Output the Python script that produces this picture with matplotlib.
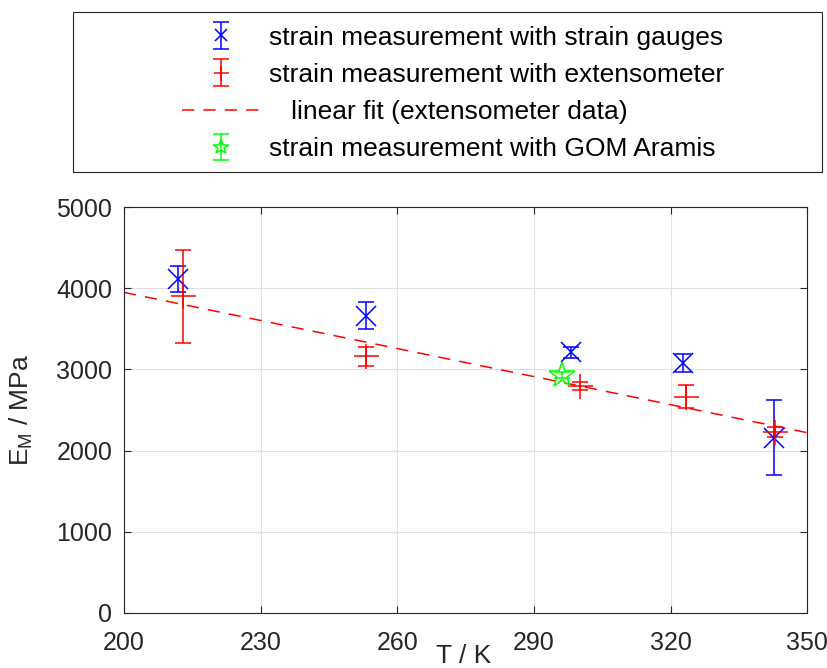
import matplotlib
matplotlib.use("Agg")
import matplotlib.pyplot as plt
from matplotlib.patches import Rectangle

plt.rcParams["font.family"] = ["Liberation Sans", "DejaVu Sans"]
plt.rcParams["mathtext.fontset"] = "custom"
plt.rcParams["mathtext.rm"] = "Liberation Sans"

# strain gauges
T_gauge = [211.9, 253.1, 298.1, 322.7, 342.6]
E_gauge = [4115, 3663, 3212, 3076, 2160]
err_gauge = [160, 165, 68, 111, 465]

# extensometer
T_ext = [213.0, 253.1, 300.1, 323.3, 342.9]
E_ext = [3900, 3162, 2795, 2665, 2229]
err_ext = [570, 120, 48, 145, 65]

# linear fit of extensometer data (end points)
T_fit = [200, 350]
E_fit = [3950, 2220]

# GOM Aramis
T_gom = [296.1]
E_gom = [2928]
err_gom = [35]

x_ticks = [200, 230, 260, 290, 320, 350]
y_ticks = [0, 1000, 2000, 3000, 4000, 5000]

labels = [
    "strain measurement with strain gauges",
    "strain measurement with extensometer",
    "   linear fit (extensometer data)",
    "strain measurement with GOM Aramis",
]

dark = (0.15, 0.15, 0.15)
fs = 19

fig = plt.figure(figsize=(8.27, 6.68), dpi=100)
ax = fig.add_axes([0.1499, 0.0828, 0.8262, 0.6069])

h1 = ax.errorbar(T_gauge, E_gauge, yerr=err_gauge, fmt="x", color="blue",
                 ms=14, mew=1.1, elinewidth=1.1, capsize=6, capthick=1.1)
h2 = ax.errorbar(T_ext, E_ext, yerr=err_ext, fmt="+", color="red",
                 ms=18, mew=1.1, elinewidth=1.1, capsize=6, capthick=1.1)
(h3,) = ax.plot(T_fit, E_fit, color="red", lw=1.1, dashes=(8, 6))
h4 = ax.errorbar(T_gom, E_gom, yerr=err_gom, fmt="*", color="#00ff00",
                 mfc="none", ms=19, mew=1.1, elinewidth=1.1, capsize=6, capthick=1.1)

ax.set_xlim(200, 350)
ax.set_ylim(0, 5000)
ax.set_xticks(x_ticks)
ax.set_yticks(y_ticks)
ax.grid(True, color=(0.88, 0.88, 0.88), lw=0.8)
ax.set_axisbelow(True)
ax.tick_params(direction="in", length=5, width=0.8, color=dark, labelcolor=dark,
               labelsize=18, top=True, right=True)
ax.tick_params(axis="x", pad=13)
ax.tick_params(axis="y", pad=8.5)
for s in ax.spines.values():
    s.set_color(dark)
    s.set_linewidth(0.8)

ax.set_xlabel("T / K", fontsize=fs, color=dark)
ax.xaxis.set_label_coords(0.497, -0.077)
ax.set_ylabel(r"E$_\mathregular{M}$ / MPa", fontsize=fs, color=dark)
ax.yaxis.set_label_coords(-0.13, 0.5)

# legend frame spans wider than the entries
fig.patches.append(Rectangle((0.0883, 0.7425), 0.9057, 0.2395, transform=fig.transFigure,
                             fill=False, edgecolor=dark, lw=0.8))
fig.legend([h1, h2, h3, h4], labels, loc="center", bbox_to_anchor=(0.548, 0.86),
           frameon=False, fontsize=fs, markerscale=0.6, handlelength=2.92,
           handletextpad=0.38, labelspacing=0.5, borderpad=0)

fig.savefig("out.png", dpi=100)
